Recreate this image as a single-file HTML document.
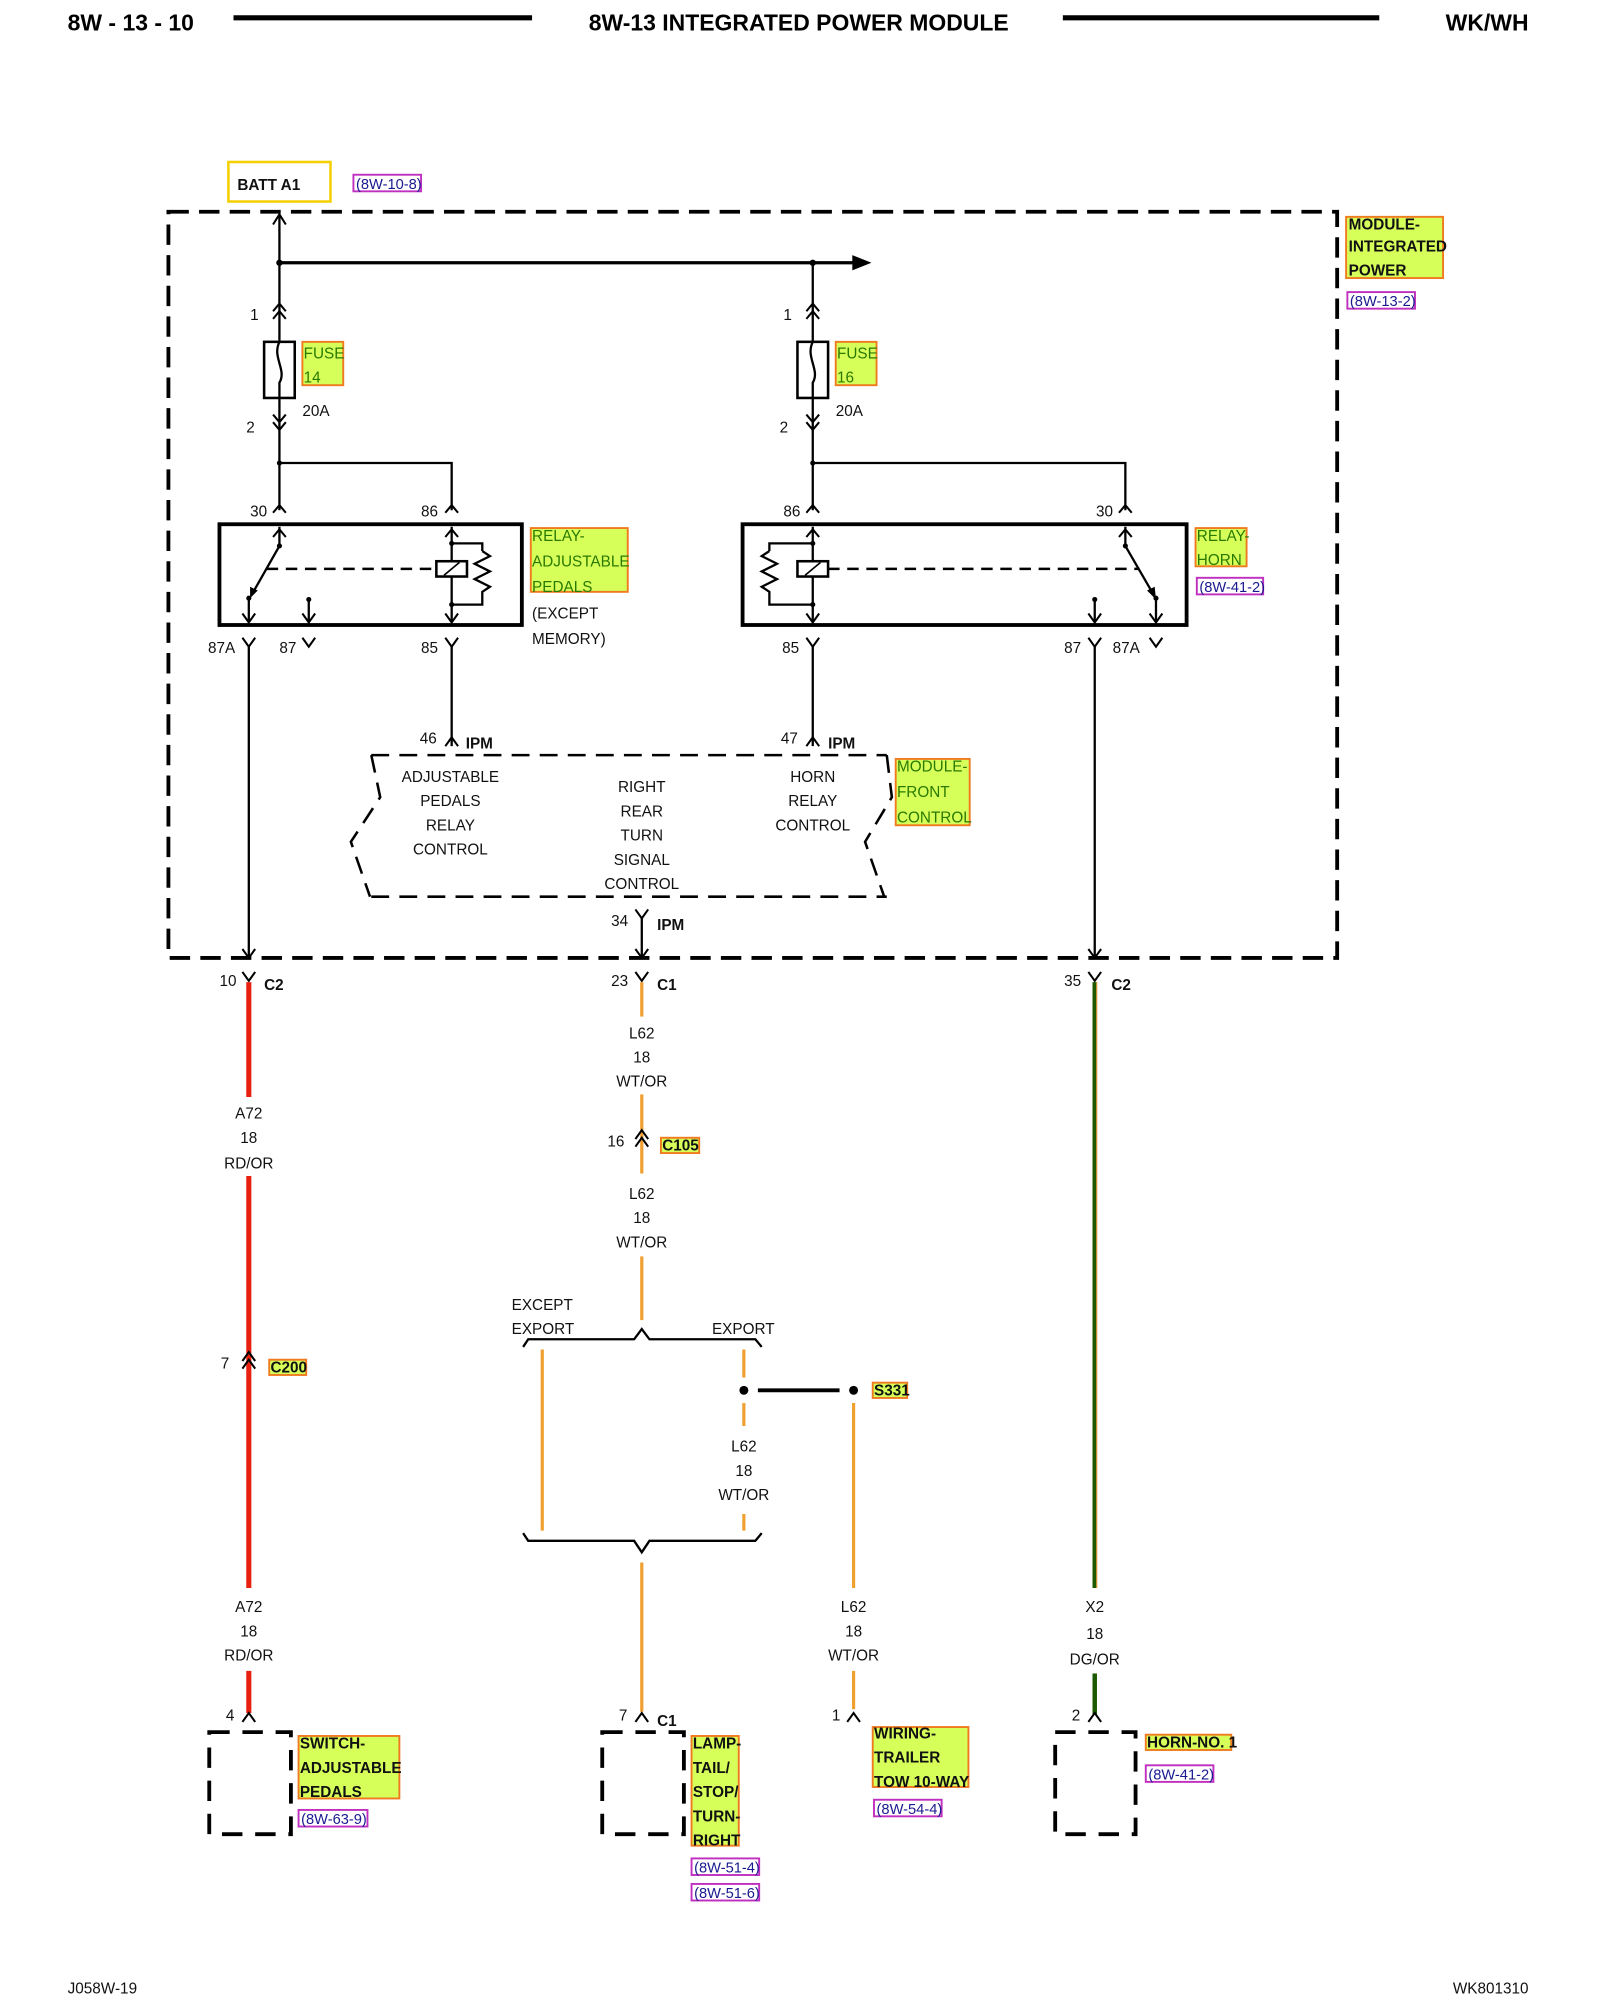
<!DOCTYPE html>
<html><head><meta charset="utf-8"><style>
html,body{margin:0;padding:0;background:#fff;}
svg{display:block;}
text{font-family:"Liberation Sans",sans-serif;}
</style></head><body>
<svg width="1600" height="2000" viewBox="0 0 1254 1568" preserveAspectRatio="none" xmlns="http://www.w3.org/2000/svg">
<defs>
<style>
.t{font-size:12px;fill:#111;}
.b{font-weight:bold;}
.c{text-anchor:middle;}
.g{fill:#d7ff5a;stroke:#f07a20;stroke-width:1.5;}
.gt{font-size:12px;fill:#2a7a00;}
.gk{font-size:12px;fill:#111;font-weight:bold;}
.r{fill:#fff;stroke:#c030c0;stroke-width:1.5;}
.rt{font-size:11.5px;fill:#1a1a90;}
.w{stroke:#000;stroke-width:1.8;fill:none;}
.ch{stroke:#000;stroke-width:1.6;fill:none;}
</style>
</defs>
<!-- header -->
<text x="53" y="24" class="b" font-size="18">8W - 13 - 10</text>
<line x1="183" y1="14" x2="417" y2="14" stroke="#000" stroke-width="4"/>
<text x="626" y="24" class="b c" font-size="18">8W-13 INTEGRATED POWER MODULE</text>
<line x1="833" y1="14" x2="1081" y2="14" stroke="#000" stroke-width="4"/>
<text x="1198" y="24" class="b" font-size="18" text-anchor="end">WK/WH</text>

<!-- BATT -->
<rect x="179" y="127" width="80" height="31" fill="#fff" stroke="#f5d000" stroke-width="2"/>
<text x="186" y="149" class="t b" font-size="11.5">BATT A1</text>
<rect x="277" y="137" width="53" height="13" class="r"/>
<text x="279" y="148" class="rt">(8W-10-8)</text>

<!-- module box -->
<rect x="132" y="166" width="916" height="585" fill="none" stroke="#000" stroke-width="3" stroke-dasharray="16 8"/>
<rect x="1055" y="170" width="76" height="48" class="g"/>
<text x="1057" y="180" class="gk">MODULE-</text>
<text x="1057" y="197" class="gk">INTEGRATED</text>
<text x="1057" y="216" class="gk">POWER</text>
<rect x="1056" y="229" width="53" height="13" class="r"/>
<text x="1058" y="240" class="rt">(8W-13-2)</text>

<!-- feed -->
<line x1="219" y1="168" x2="219" y2="268" class="w"/>
<polyline points="214,176 219,168 224,176" class="ch"/>
<line x1="219" y1="206" x2="670" y2="206" stroke="#000" stroke-width="2.5"/>
<polygon points="668,200 683,206 668,212" fill="#000"/>
<circle cx="219" cy="206" r="2.5"/><circle cx="637" cy="206" r="2.5"/>
<line x1="637" y1="206" x2="637" y2="268" class="w"/>

<!-- fuses -->
<g id="fuse">
<polyline points="214,244 219,238 224,244" class="ch"/><polyline points="214,250 219,244 224,250" class="ch"/>
<rect x="207" y="268" width="24" height="44" fill="#fff" stroke="#000" stroke-width="2"/>
<path d="M219,268 C213,280 225,290 219,300 L219,312" class="w"/>
<line x1="219" y1="312" x2="219" y2="363" class="w"/>
<polyline points="214,325 219,331 224,325" class="ch"/><polyline points="214,331 219,337 224,331" class="ch"/>
</g>
<use href="#fuse" x="418"/>
<text x="196" y="251" class="t">1</text><text x="193" y="339" class="t">2</text>
<text x="614" y="251" class="t">1</text><text x="611" y="339" class="t">2</text>
<rect x="237" y="268" width="32" height="34" class="g"/><text x="238" y="281" class="gt">FUSE</text><text x="238" y="300" class="gt">14</text>
<rect x="655" y="268" width="32" height="34" class="g"/><text x="656" y="281" class="gt">FUSE</text><text x="656" y="300" class="gt">16</text>
<text x="237" y="326" class="t">20A</text><text x="655" y="326" class="t">20A</text>

<!-- relay feeds -->
<polyline points="219,363 354,363 354,400" class="w"/><line x1="219" y1="363" x2="219" y2="400" class="w"/>
<circle cx="219" cy="363" r="2"/>
<polyline points="637,363 882,363 882,400" class="w"/><line x1="637" y1="363" x2="637" y2="400" class="w"/>
<circle cx="637" cy="363" r="2"/>
<polyline points="214,402 219,396 224,402" class="ch"/><polyline points="349,402 354,396 359,402" class="ch"/>
<polyline points="632,402 637,396 642,402" class="ch"/><polyline points="877,402 882,396 887,402" class="ch"/>
<text x="196" y="405" class="t">30</text><text x="330" y="405" class="t">86</text>
<text x="614" y="405" class="t">86</text><text x="859" y="405" class="t">30</text>

<!-- relay left -->
<rect x="172" y="411" width="237" height="79" fill="none" stroke="#000" stroke-width="3"/>
<line x1="219" y1="413" x2="219" y2="428" class="w"/><polyline points="214,421 219,415 224,421" class="ch"/>
<circle cx="219" cy="428" r="2"/>
<line x1="219" y1="428" x2="198" y2="465" class="w"/><polygon points="196,469 196,460 202,463" fill="#000"/>
<circle cx="195" cy="469" r="2"/><line x1="195" y1="469" x2="195" y2="488" class="w"/><polyline points="190,481 195,488 200,481" class="ch"/>
<circle cx="242" cy="470" r="2"/><line x1="242" y1="470" x2="242" y2="488" class="w"/><polyline points="237,481 242,488 247,481" class="ch"/>
<line x1="209" y1="446" x2="342" y2="446" stroke="#000" stroke-width="2" stroke-dasharray="9 6"/>
<line x1="354" y1="413" x2="354" y2="488" class="w"/><polyline points="349,421 354,415 359,421" class="ch"/><polyline points="349,481 354,488 359,481" class="ch"/>
<rect x="342" y="440" width="24" height="12" fill="#fff" stroke="#000" stroke-width="2"/><line x1="348" y1="451" x2="360" y2="441" stroke="#000" stroke-width="1.3"/>
<circle cx="354" cy="426" r="2"/><circle cx="354" cy="474" r="2"/>
<polyline points="354,426 378,426 378,432" class="w"/><path d="M378,432 l6,4 -12,6 12,6 -12,6 12,6 -6,4 L378,474 L354,474" class="w"/>
<rect x="416" y="414" width="76" height="50" class="g"/>
<text x="417" y="424" class="gt">RELAY-</text><text x="417" y="444" class="gt">ADJUSTABLE</text><text x="417" y="464" class="gt">PEDALS</text>
<text x="417" y="485" class="t">(EXCEPT</text><text x="417" y="505" class="t">MEMORY)</text>

<!-- relay right -->
<rect x="582" y="411" width="348" height="79" fill="none" stroke="#000" stroke-width="3"/>
<line x1="637" y1="413" x2="637" y2="488" class="w"/><polyline points="632,421 637,415 642,421" class="ch"/><polyline points="632,481 637,488 642,481" class="ch"/>
<rect x="625" y="440" width="24" height="12" fill="#fff" stroke="#000" stroke-width="2"/><line x1="631" y1="451" x2="643" y2="441" stroke="#000" stroke-width="1.3"/>
<circle cx="637" cy="426" r="2"/><circle cx="637" cy="474" r="2"/>
<polyline points="637,426 603,426 603,432" class="w"/><path d="M603,432 l-6,4 12,6 -12,6 12,6 -12,6 6,4 L603,474 L637,474" class="w"/>
<line x1="649" y1="446" x2="893" y2="446" stroke="#000" stroke-width="2" stroke-dasharray="9 6"/>
<line x1="882" y1="413" x2="882" y2="428" class="w"/><polyline points="877,421 882,415 887,421" class="ch"/>
<circle cx="882" cy="428" r="2"/><line x1="882" y1="428" x2="904" y2="466" class="w"/><polygon points="906,470 899,463 905,460" fill="#000"/>
<circle cx="906" cy="469" r="2"/><line x1="906" y1="469" x2="906" y2="488" class="w"/><polyline points="901,481 906,488 911,481" class="ch"/>
<circle cx="858" cy="470" r="2"/><line x1="858" y1="470" x2="858" y2="488" class="w"/><polyline points="853,481 858,488 863,481" class="ch"/>
<rect x="937" y="414" width="40" height="30" class="g"/>
<text x="938" y="424" class="gt">RELAY-</text><text x="938" y="443" class="gt">HORN</text>
<rect x="938" y="453" width="52" height="13" class="r"/><text x="940" y="464" class="rt">(8W-41-2)</text>

<!-- relay output pins -->
<g class="ch">
<polyline points="190,500 195,507 200,500"/><polyline points="237,500 242,507 247,500"/><polyline points="349,500 354,507 359,500"/>
<polyline points="632,500 637,507 642,500"/><polyline points="853,500 858,507 863,500"/><polyline points="901,500 906,507 911,500"/>
</g>
<text x="163" y="512" class="t">87A</text><text x="219" y="512" class="t">87</text><text x="330" y="512" class="t">85</text>
<text x="613" y="512" class="t">85</text><text x="834" y="512" class="t">87</text><text x="872" y="512" class="t">87A</text>
<line x1="195" y1="507" x2="195" y2="751" class="w"/>
<line x1="858" y1="507" x2="858" y2="751" class="w"/>
<line x1="354" y1="507" x2="354" y2="585" class="w"/>
<line x1="637" y1="507" x2="637" y2="585" class="w"/>
<polyline points="349,585 354,578 359,585" class="ch"/><polyline points="632,585 637,578 642,585" class="ch"/>
<text x="329" y="583" class="t">46</text><text x="365" y="587" class="t b">IPM</text>
<text x="612" y="583" class="t">47</text><text x="649" y="587" class="t b">IPM</text>

<!-- front control -->
<g stroke="#000" stroke-width="2" fill="none" stroke-dasharray="14 8">
<line x1="291" y1="592" x2="695" y2="592"/><line x1="291" y1="703" x2="695" y2="703"/>
<polyline points="291,592 298,625 275,660 290,703"/><polyline points="695,592 699,625 678,660 693,703"/>
</g>
<text x="353" y="613" class="t c">ADJUSTABLE</text><text x="353" y="632" class="t c">PEDALS</text><text x="353" y="651" class="t c">RELAY</text><text x="353" y="670" class="t c">CONTROL</text>
<text x="503" y="621" class="t c">RIGHT</text><text x="503" y="640" class="t c">REAR</text><text x="503" y="659" class="t c">TURN</text><text x="503" y="678" class="t c">SIGNAL</text><text x="503" y="697" class="t c">CONTROL</text>
<text x="637" y="613" class="t c">HORN</text><text x="637" y="632" class="t c">RELAY</text><text x="637" y="651" class="t c">CONTROL</text>
<rect x="702" y="595" width="58" height="52" class="g"/>
<text x="703" y="605" class="gt">MODULE-</text><text x="703" y="625" class="gt">FRONT</text><text x="703" y="645" class="gt">CONTROL</text>
<polyline points="498,713 503,720 508,713" class="ch"/><line x1="503" y1="720" x2="503" y2="751" class="w"/>
<text x="479" y="726" class="t">34</text><text x="515" y="729" class="t b">IPM</text>
<polyline points="190,744 195,751 200,744" class="ch"/><polyline points="498,744 503,751 508,744" class="ch"/><polyline points="853,744 858,751 863,744" class="ch"/>

<!-- C connectors below -->
<g class="ch">
<polyline points="190,762 195,769 200,762"/><polyline points="498,762 503,769 508,762"/><polyline points="853,762 858,769 863,762"/>
</g>
<text x="172" y="773" class="t">10</text><text x="207" y="776" class="t b">C2</text>
<text x="479" y="773" class="t">23</text><text x="515" y="776" class="t b">C1</text>
<text x="834" y="773" class="t">35</text><text x="871" y="776" class="t b">C2</text>

<!-- red wire -->
<g stroke="#e82010" stroke-width="4">
<line x1="195" y1="770" x2="195" y2="860"/><line x1="195" y1="922" x2="195" y2="1245"/><line x1="195" y1="1310" x2="195" y2="1343"/>
</g>
<text x="195" y="877" class="t c">A72</text><text x="195" y="896" class="t c">18</text><text x="195" y="916" class="t c">RD/OR</text>
<polyline points="190,1067 195,1060 200,1067" class="ch"/><polyline points="190,1073 195,1066 200,1073" class="ch"/>
<text x="173" y="1073" class="t">7</text>
<rect x="211" y="1066" width="29" height="12" class="g"/><text x="212" y="1076" class="gk" font-size="11">C200</text>
<text x="195" y="1264" class="t c">A72</text><text x="195" y="1283" class="t c">18</text><text x="195" y="1302" class="t c">RD/OR</text>

<!-- orange wires -->
<g stroke="#f0a030" stroke-width="2.5">
<line x1="503" y1="770" x2="503" y2="797"/><line x1="503" y1="858" x2="503" y2="920"/><line x1="503" y1="985" x2="503" y2="1035"/>
<line x1="425" y1="1058" x2="425" y2="1200"/>
<line x1="583" y1="1058" x2="583" y2="1080"/><line x1="583" y1="1100" x2="583" y2="1118"/><line x1="583" y1="1187" x2="583" y2="1200"/>
<line x1="669" y1="1100" x2="669" y2="1245"/><line x1="669" y1="1310" x2="669" y2="1340"/>
<line x1="503" y1="1225" x2="503" y2="1342"/>
</g>
<text x="503" y="814" class="t c">L62</text><text x="503" y="833" class="t c">18</text><text x="503" y="852" class="t c">WT/OR</text>
<polyline points="498,893 503,886 508,893" class="ch"/><polyline points="498,899 503,892 508,899" class="ch"/>
<text x="476" y="899" class="t">16</text>
<rect x="518" y="892" width="30" height="12" class="g"/><text x="519" y="902" class="gk" font-size="11">C105</text>
<text x="503" y="940" class="t c">L62</text><text x="503" y="959" class="t c">18</text><text x="503" y="978" class="t c">WT/OR</text>
<text x="401" y="1027" class="t">EXCEPT</text><text x="401" y="1046" class="t">EXPORT</text><text x="558" y="1046" class="t">EXPORT</text>
<path d="M410,1056 L414,1050 L497,1050 L503,1042 L509,1050 L592,1050 L597,1056" class="w"/>
<path d="M410,1202 L414,1208 L497,1208 L503,1217 L509,1208 L592,1208 L597,1202" class="w"/>
<circle cx="583" cy="1090" r="3.5"/><circle cx="669" cy="1090" r="3.5"/>
<line x1="594" y1="1090" x2="658" y2="1090" stroke="#000" stroke-width="3"/>
<rect x="684" y="1084" width="27" height="12" class="g"/><text x="685" y="1094" class="gk" font-size="11">S331</text>
<text x="583" y="1138" class="t c">L62</text><text x="583" y="1157" class="t c">18</text><text x="583" y="1176" class="t c">WT/OR</text>
<text x="669" y="1264" class="t c">L62</text><text x="669" y="1283" class="t c">18</text><text x="669" y="1302" class="t c">WT/OR</text>

<!-- green wire -->
<g stroke="#1c5a00" stroke-width="3.5">
<line x1="858" y1="770" x2="858" y2="1245"/><line x1="858" y1="1312" x2="858" y2="1344"/>
</g>
<line x1="859.5" y1="770" x2="859.5" y2="1245" stroke="#c89030" stroke-width="1"/>
<text x="858" y="1264" class="t c">X2</text><text x="858" y="1285" class="t c">18</text><text x="858" y="1305" class="t c">DG/OR</text>

<!-- bottom connectors -->
<g class="ch">
<polyline points="190,1350 195,1343 200,1350"/><polyline points="498,1350 503,1343 508,1350"/><polyline points="664,1350 669,1343 674,1350"/><polyline points="853,1350 858,1343 863,1350"/>
</g>
<text x="177" y="1349" class="t">4</text><text x="485" y="1349" class="t">7</text><text x="515" y="1353" class="t b">C1</text>
<text x="652" y="1349" class="t">1</text><text x="840" y="1349" class="t">2</text>
<g fill="none" stroke="#000" stroke-width="3" stroke-dasharray="16 10">
<rect x="164" y="1358" width="64" height="80"/><rect x="472" y="1358" width="64" height="80"/><rect x="827" y="1358" width="63" height="80"/>
</g>
<rect x="234" y="1361" width="79" height="49" class="g"/>
<text x="235" y="1371" class="gk">SWITCH-</text><text x="235" y="1390" class="gk">ADJUSTABLE</text><text x="235" y="1409" class="gk">PEDALS</text>
<rect x="234" y="1419" width="54" height="13" class="r"/><text x="236" y="1430" class="rt">(8W-63-9)</text>
<rect x="542" y="1361" width="37" height="86" class="g"/>
<text x="543" y="1371" class="gk">LAMP-</text><text x="543" y="1390" class="gk">TAIL/</text><text x="543" y="1409" class="gk">STOP/</text><text x="543" y="1428" class="gk">TURN-</text><text x="543" y="1447" class="gk">RIGHT</text>
<rect x="542" y="1457" width="53" height="13" class="r"/><text x="544" y="1468" class="rt">(8W-51-4)</text>
<rect x="542" y="1477" width="53" height="13" class="r"/><text x="544" y="1488" class="rt">(8W-51-6)</text>
<rect x="684" y="1354" width="75" height="47" class="g"/>
<text x="685" y="1363" class="gk">WIRING-</text><text x="685" y="1382" class="gk">TRAILER</text><text x="685" y="1401" class="gk">TOW 10-WAY</text>
<rect x="685" y="1411" width="53" height="13" class="r"/><text x="687" y="1422" class="rt">(8W-54-4)</text>
<rect x="898" y="1360" width="67" height="12" class="g"/><text x="899" y="1370" class="gk">HORN-NO. 1</text>
<rect x="898" y="1384" width="53" height="13" class="r"/><text x="900" y="1395" class="rt">(8W-41-2)</text>

<!-- footer -->
<text x="53" y="1563" class="t" font-size="11">J058W-19</text>
<text x="1198" y="1563" class="t" font-size="11" text-anchor="end">WK801310</text>
</svg>
</body></html>
